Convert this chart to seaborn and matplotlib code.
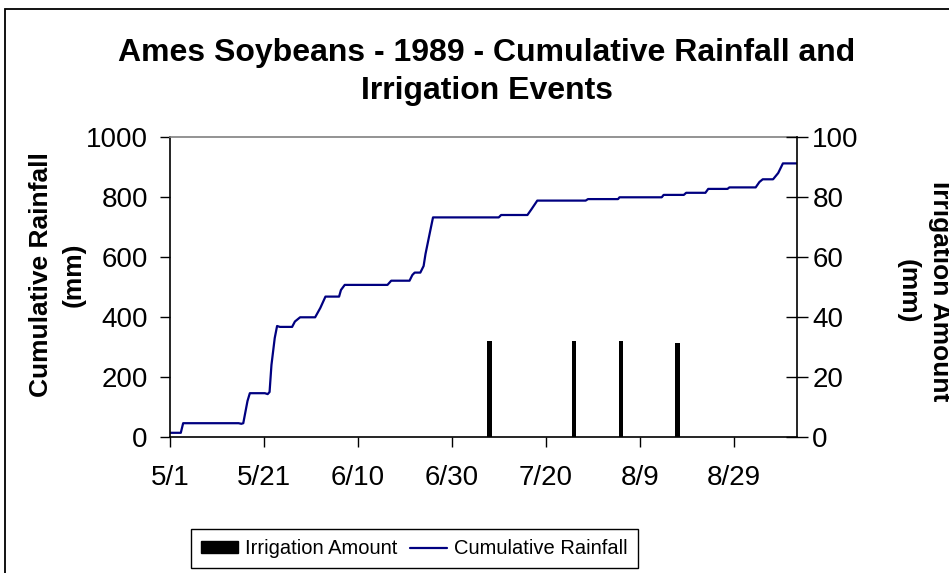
import matplotlib
matplotlib.use('Agg')
import matplotlib.pyplot as plt
import seaborn as sns
from matplotlib.patches import Rectangle
from matplotlib.lines import Line2D

sns.set_style('white')
plt.rcParams['font.family'] = ['Liberation Sans', 'DejaVu Sans']
plt.rcParams['text.color'] = 'black'
plt.rcParams['axes.labelcolor'] = 'black'
plt.rcParams['xtick.color'] = 'black'
plt.rcParams['ytick.color'] = 'black'

# Cumulative rainfall (mm): day counted from 5/1
rain_day = [0, 2.3, 2.8, 14.6, 15.2, 15.6, 16.5, 17, 20.2, 20.8, 21.2, 21.6, 22.3, 22.8,
            23.4, 26, 26.6, 27.7, 30.9, 32, 33.1, 36, 36.4, 37.2, 46.3, 47.1, 51, 51.6,
            52.1, 53.3, 54, 54.4, 55.3, 56, 70, 70.5, 76.1, 77, 78.2, 88.5, 89, 95.4,
            95.7, 104.7, 105.1, 109.4, 109.9, 114, 114.6, 118.7, 119.1, 124.7, 125.5,
            126.2, 128.4, 129.5, 130.5, 133.5]
rain_mm = [14, 14, 46, 46, 44, 46, 120, 146, 146, 143, 150, 240, 330, 370,
           367, 367, 385, 399, 399, 430, 468, 468, 490, 507, 507, 521, 521, 540,
           548, 548, 570, 610, 679, 732, 732, 740, 740, 760, 788, 788, 793, 793,
           799, 799, 807, 807, 814, 814, 827, 827, 832, 832, 850,
           859, 859, 880, 912, 912]

# Irrigation events (mm)
irr_day = [68, 86, 96, 108]
irr_mm = [32, 32, 32, 31.5]

tick_days = [0, 20, 40, 60, 80, 100, 120]
tick_labels = ['5/1', '5/21', '6/10', '6/30', '7/20', '8/9', '8/29']

fig = plt.figure(figsize=(9.49, 5.73), dpi=100)
ax = fig.add_axes([170 / 949, 1 - 437 / 573, (797 - 170) / 949, (437 - 137) / 573])

sns.lineplot(x=rain_day, y=rain_mm, sort=False, estimator=None,
             color='#000080', linewidth=1.6, ax=ax)

ax2 = ax.twinx()
sns.barplot(x=irr_day, y=irr_mm, native_scale=True, width=0.1,
            color='black', saturation=1, linewidth=0, ax=ax2)

ax.set_xlim(0, 133.5)
ax.set_ylim(0, 1000)
ax2.set_ylim(0, 100)
ax.set_xticks(tick_days, tick_labels)
ax.set_yticks(range(0, 1001, 200))
ax2.set_yticks(range(0, 101, 20))
ax.set_xlabel('')
ax2.set_xlabel('')
ax2.set_ylabel('')

ax.tick_params(axis='x', direction='out', length=7, width=1, pad=13, labelsize=20, bottom=True)
ax.tick_params(axis='y', direction='out', length=7, width=1, pad=9, labelsize=20, left=True)
ax2.tick_params(axis='y', direction='inout', length=16, width=1, pad=3, labelsize=20, right=True)

for s in ['left', 'bottom']:
    ax.spines[s].set_color('black')
    ax.spines[s].set_linewidth(1.2)
ax.spines['top'].set_color('#808080')
ax.spines['top'].set_linewidth(1.2)
ax.spines['right'].set_visible(False)
for s in ['left', 'bottom', 'top']:
    ax2.spines[s].set_visible(False)
ax2.spines['right'].set_color('black')
ax2.spines['right'].set_linewidth(1.2)

fig.text(487 / 949, 1 - 72 / 573, 'Ames Soybeans - 1989 - Cumulative Rainfall and\nIrrigation Events',
         ha='center', va='center', fontsize=23, fontweight='bold', linespacing=1.35)
fig.text(57 / 949, 1 - 275 / 573, 'Cumulative Rainfall\n(mm)', rotation=90,
         ha='center', va='center', fontsize=19, fontweight='bold',
         multialignment='center', linespacing=1.45)
fig.text(924 / 949, 1 - 291 / 573, 'Irrigation Amount\n(mm)', rotation=-90,
         ha='center', va='center', fontsize=19, fontweight='bold',
         multialignment='center', linespacing=1.45)

handles = [Rectangle((0, 0), 1, 1, facecolor='black', edgecolor='black'),
           Line2D([0], [0], color='#000080', linewidth=1.6)]
leg = fig.legend(handles, ['Irrigation Amount', 'Cumulative Rainfall'], ncol=2,
                 loc='center', bbox_to_anchor=(414.5 / 949, 1 - 548.5 / 573),
                 fontsize=14.5, frameon=True, fancybox=False, shadow=False,
                 handlelength=1.85, handleheight=0.5, handletextpad=0.35,
                 columnspacing=0.6, borderpad=0.5)
leg.get_frame().set_edgecolor('black')
leg.get_frame().set_linewidth(1)
leg.get_frame().set_alpha(1)

# chart area border
fig.patches.append(Rectangle((5 / 949, -0.1), 2, 1.1 - 9 / 573, transform=fig.transFigure,
                             fill=False, edgecolor='black', linewidth=1.3))

fig.savefig('out.png', dpi=100)
